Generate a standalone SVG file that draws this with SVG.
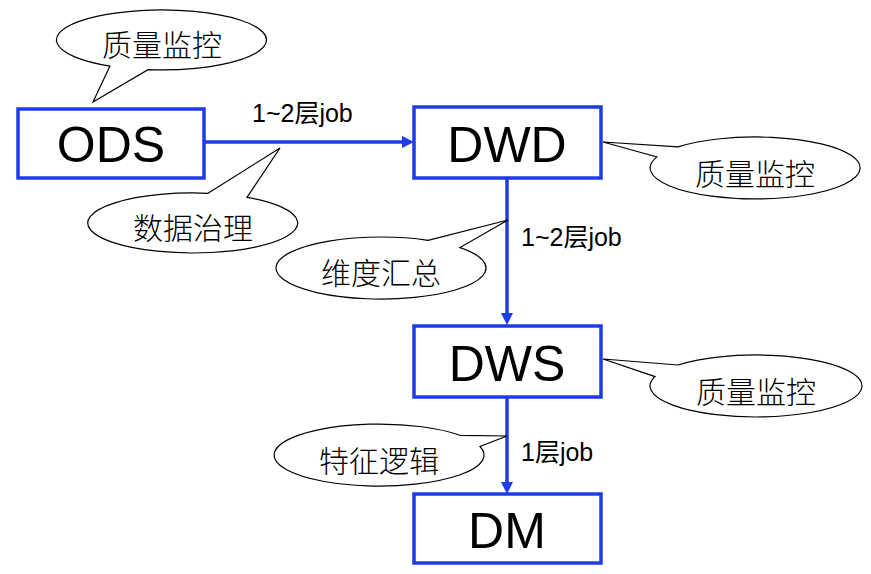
<svg xmlns="http://www.w3.org/2000/svg" width="871" height="574" viewBox="0 0 871 574">
<style>
.box{fill:#ffffff;stroke:#1f3ae6;stroke-width:3.5}
.node{font-family:"Liberation Sans",Arial,sans-serif;font-size:50px;fill:#000;text-anchor:middle}
.edge{stroke:#1f3ae6;stroke-width:3.5;fill:none;marker-end:url(#ah)}
.elabel{font-family:"Liberation Sans","Noto Sans CJK SC",sans-serif;font-size:25px;fill:#000}
.callout{fill:#ffffff;stroke:#000;stroke-width:1.2}
.ctext{font-family:"Noto Sans CJK SC",sans-serif;font-size:30px;font-weight:300;fill:#000;text-anchor:middle;dominant-baseline:central}
</style>
<defs>
<marker id="ah" markerUnits="userSpaceOnUse" markerWidth="12" markerHeight="12" refX="8" refY="6" orient="auto">
<path d="M0,0 L12,6 L0,12 Z" fill="#1f3ae6"/>
</marker>
</defs>
<rect width="871" height="574" fill="#ffffff"/>
<g id="connectors">
<line class="edge" x1="204" y1="142" x2="410" y2="142"/>
<line class="edge" x1="507" y1="178" x2="507" y2="321"/>
<line class="edge" x1="507" y1="397" x2="507" y2="490"/>
<text class="elabel" x="252" y="122">1~2层job</text>
<text class="elabel" x="521" y="246">1~2层job</text>
<text class="elabel" x="521" y="461">1层job</text>
</g>
<g id="ODS">
<rect class="box" x="18" y="109" width="186" height="69"/>
<text class="node" x="111" y="162">ODS</text>
</g>
<g id="DWD">
<rect class="box" x="414" y="107" width="187" height="71"/>
<text class="node" x="507" y="162">DWD</text>
</g>
<g id="DWS">
<rect class="box" x="414" y="326" width="187" height="71"/>
<text class="node" x="507" y="381">DWS</text>
</g>
<g id="DM">
<rect class="box" x="414" y="494" width="187" height="69"/>
<text class="node" x="507" y="548">DM</text>
</g>
<g id="callout-ods-quality">
<path class="callout" d="M110,66.1 L93,102 L148,69.7 A105,30 0 1 0 110,66.1 Z"/>
<text class="ctext" x="162" y="43">质量监控</text>
</g>
<g id="callout-data-governance">
<path class="callout" d="M208,193.3 L280,148 L247,197.3 A105,30 0 1 1 208,193.3 Z"/>
<text class="ctext" x="193" y="226">数据治理</text>
</g>
<g id="callout-dwd-quality">
<path class="callout" d="M678,146.9 L603,142 L657,156.9 A105,31 0 1 0 678,146.9 Z"/>
<text class="ctext" x="755" y="172">质量监控</text>
</g>
<g id="callout-dimension">
<path class="callout" d="M428,240.3 L508,220 L460,247.6 A105,31 0 1 1 428,240.3 Z"/>
<text class="ctext" x="381" y="271">维度汇总</text>
</g>
<g id="callout-dws-quality">
<path class="callout" d="M678,365 L603,359 L655,376.6 A106,31 0 1 0 678,365 Z"/>
<text class="ctext" x="756" y="390">质量监控</text>
</g>
<g id="callout-feature">
<path class="callout" d="M460,435.3 L507,436 L480,446.5 A105,31 0 1 1 460,435.3 Z"/>
<text class="ctext" x="379" y="459">特征逻辑</text>
</g>
</svg>
